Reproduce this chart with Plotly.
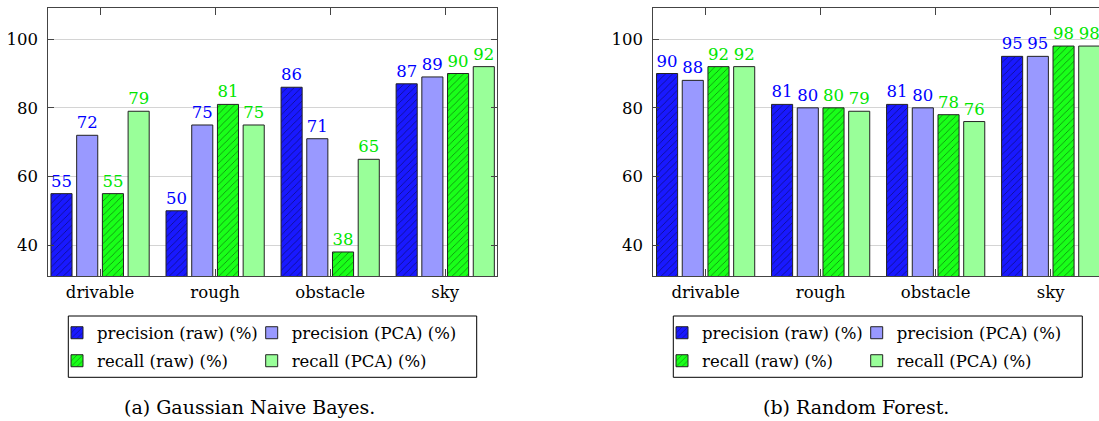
import plotly.graph_objects as go

categories = ["drivable", "rough", "obstacle", "sky"]
series_names = ["precision (raw) (%)", "precision (PCA) (%)", "recall (raw) (%)", "recall (PCA) (%)"]

# (a) Gaussian Naive Bayes
gnb_precision_raw = [55, 50, 86, 87]
gnb_precision_pca = [72, 75, 71, 89]
gnb_recall_raw = [55, 81, 38, 90]
gnb_recall_pca = [79, 75, 65, 92]

# (b) Random Forest
rf_precision_raw = [90, 81, 81, 95]
rf_precision_pca = [88, 80, 80, 95]
rf_recall_raw = [92, 80, 78, 98]
rf_recall_pca = [92, 79, 76, 98]

captions = ["(a) Gaussian Naive Bayes.", "(b) Random Forest."]
y_ticks = [40, 60, 80, 100]

FONT = "DejaVu Serif"
FS = 16.5
W, H = 1099, 421

fills = ["rgb(25,25,255)", "rgb(153,153,255)", "rgb(25,255,25)", "rgb(153,255,153)"]
text_colors = ["rgb(0,0,255)", "rgb(0,0,255)", "rgb(0,230,0)", "rgb(0,230,0)"]
hatched = [True, False, True, False]

# legend slot (column, row) of each series
slots = [(0, 0), (1, 0), (0, 1), (1, 1)]

fig = go.Figure()

panels = [
    ([gnb_precision_raw, gnb_precision_pca, gnb_recall_raw, gnb_recall_pca], "x", "y"),
    ([rf_precision_raw, rf_precision_pca, rf_recall_raw, rf_recall_pca], "x2", "y2"),
]

legend_common = dict(orientation="h", xanchor="left", yanchor="middle",
                     borderwidth=0, bgcolor="rgba(0,0,0,0)",
                     font=dict(family=FONT, size=FS, color="black"),
                     itemclick=False, itemdoubleclick=False)
legend_x0 = [57, 662]          # px, left of first legend column per panel
col_dx = 194.7                 # px between legend columns
row_y = [333, 361]             # px centre of legend rows

layout_legends = {}
n = 0
for p, (series, xa, ya) in enumerate(panels):
    for i, vals in enumerate(series):
        n += 1
        lg = "legend" if n == 1 else f"legend{n}"
        col, row = slots[i]
        layout_legends[lg] = dict(legend_common, x=(legend_x0[p] + col * col_dx) / W, y=(H - row_y[row]) / H)
        pattern = dict(shape="/", fgcolor="black", bgcolor=fills[i], size=5, solidity=0.15) if hatched[i] else dict(shape="")
        fig.add_trace(go.Bar(
            x=categories, y=vals, name=series_names[i],
            xaxis=xa, yaxis=ya, legend=lg,
            marker=dict(color=fills[i], line=dict(color="#222", width=1), pattern=pattern),
            text=[str(v) for v in vals], textposition="outside",
            textfont=dict(family=FONT, size=FS, color=text_colors[i]),
            constraintext="none", cliponaxis=False,
        ))

ydom = [(H - 276) / H, (H - 8.3) / H]
common_y = dict(range=[31, 109], tickvals=y_ticks, ticks="inside", ticklen=6, tickcolor="#444",
                showgrid=True, gridcolor="#d4d4d4", gridwidth=1, zeroline=False,
                showline=True, linecolor="#444", linewidth=1,
                tickfont=dict(family=FONT, size=FS, color="black"), ticklabelstandoff=6, domain=ydom)
common_x = dict(type="category", ticks="inside", ticklen=7, tickcolor="#444", showgrid=False,
                showline=True, linecolor="#444", linewidth=1, mirror="ticks",
                tickfont=dict(family=FONT, size=FS, color="black"), ticklabelstandoff=1)

fig.update_layout(
    width=W, height=H,
    margin=dict(l=0, r=0, t=0, b=0),
    paper_bgcolor="white", plot_bgcolor="white",
    font=dict(family=FONT),
    barmode="group", bargap=0.106, bargroupgap=0.18,
    xaxis=dict(common_x, domain=[48.3 / W, 497 / W], range=[-0.45, 3.45], anchor="y"),
    yaxis=dict(common_y, mirror="ticks", anchor="x"),
    xaxis2=dict(common_x, domain=[653.3 / W, 1.0], range=[-0.455, 3.42], anchor="y2"),
    yaxis2=dict(common_y, mirror=False, anchor="x2"),
    showlegend=True,
    **layout_legends,
)

# legend frames
for x0, x1 in [(68.3, 476.7), (673.3, 1082.3)]:
    fig.add_shape(type="rect", xref="paper", yref="paper",
                  x0=x0 / W, x1=x1 / W, y0=(H - 377.3) / H, y1=(H - 316) / H,
                  line=dict(color="black", width=1), fillcolor="rgba(0,0,0,0)", layer="below")

for cap, cx in zip(captions, [249 / W, 856.3 / W]):
    fig.add_annotation(text=cap, x=cx, y=(H - 406.7) / H, xref="paper", yref="paper",
                       xanchor="center", yanchor="middle", showarrow=False,
                       font=dict(family=FONT, size=19, color="black"))

fig.write_html("out.html", config={"displayModeBar": False},
               post_script="document.body.style.margin='0';")
